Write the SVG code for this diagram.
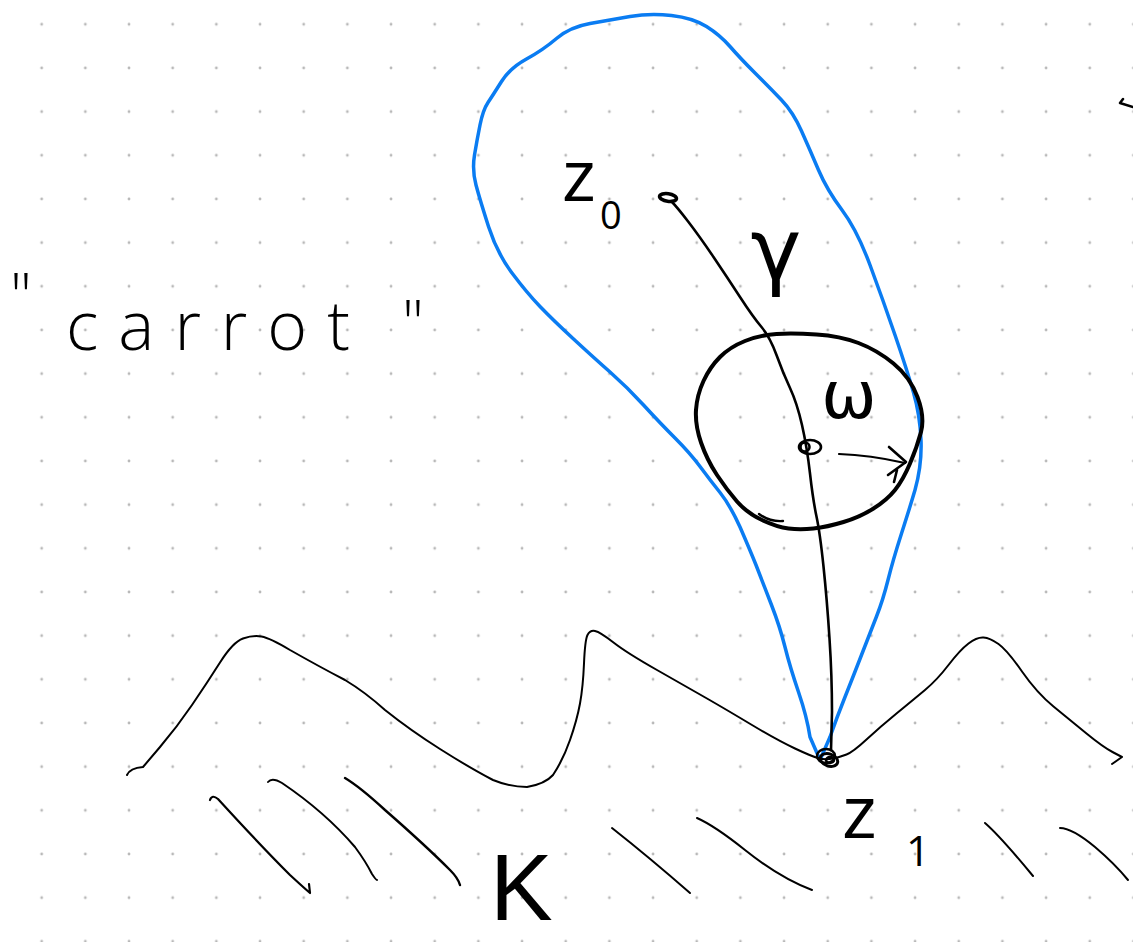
<svg xmlns="http://www.w3.org/2000/svg" width="1133" height="942" viewBox="0 0 1133 942">
<defs>
<pattern id="dots" patternUnits="userSpaceOnUse" x="19.85" y="2.45" width="43.67" height="43.67">
<circle cx="21.83" cy="21.83" r="1.4" fill="#b8b8b8"/>
</pattern>
<style>
.ink{fill:none;stroke:#000;stroke-linecap:round;stroke-linejoin:round}
.blue{fill:none;stroke:#0a7cf2;stroke-width:3.5;stroke-linecap:round;stroke-linejoin:round}
.hand{font-family:"Open Sans","Liberation Sans",sans-serif;font-weight:300;fill:#000}
.label{font-family:"Open Sans","Liberation Sans",sans-serif;font-weight:400;fill:#000}
.klabel{font-family:"Liberation Sans",sans-serif;font-weight:400;fill:#000}
.greek{font-family:"DejaVu Sans","Liberation Sans",sans-serif;font-weight:400;fill:#000}
</style>
</defs>
<rect width="1133" height="942" fill="#fff"/>
<rect width="1133" height="942" fill="url(#dots)"/>

<g id="region-blue">
<path class="blue" d="M630,16.5 Q650,13 671.5,15.5 Q693,18 706.5,26.5 Q720,35 730,46.5 Q740,58 755,73 Q770,88 781.5,100 Q793,112 801.5,131 Q810,150 818.5,170 Q827,190 842,210 Q857,230 870,265 Q883,300 895,335 Q907,370 913.5,392.5 Q920,415 921,440 Q922,465 915,490 Q910,507 901.5,533.5 Q893,560 888,580 Q883,600 876.5,616.5 Q870,633 861.5,655 Q853,677 845,697 Q837,717 830,737 L820,760 L810,737 Q807,717 798.5,692 Q790,667 785,647 Q780,627 771.5,605 Q763,583 756,565 Q750,550 740,527 Q730,505 720,492.5 Q710,480 700,466.5 Q690,453 675,438 Q660,423 643.5,405 Q627,387 610,372 Q593,357 573,338.5 Q553,320 540,306.5 Q527,293 512,273 Q497,253 488.5,226.5 Q480,200 476,185 Q472,170 474.5,155 Q477,140 480,125 Q483,110 488,102.5 Q493,95 501.5,81.5 Q510,68 526.5,59 Q543,50 556.5,38.5 Q570,27 590,23.5 Q610,20 630,16.5 Z"/>
</g>

<g id="boundary-K">
<path class="ink" stroke-width="2" d="M127,775 Q130,768 143,767 L160,747 Q177,727 192,705 Q207,683 220,662.5 Q233,642 243,638.5 Q253,635 261.5,636.5 Q270,638 290,650 Q320,667 345,680 Q365,692 385,710 Q410,730 440,749 Q470,768 493,780 Q510,787 527,787 Q545,784 553,775 Q563,760 570,740 Q577,720 580,703.5 Q583,687 584,663.5 Q585,640 587.5,635 Q590,630 595,631 Q600,632 613.5,642.5 Q627,653 657,670 Q687,687 707,698.5 Q727,710 752,725 Q777,740 795,748.5 Q813,757 819.5,758.5 Q826,760 833,758.5 Q840,757 846.5,754.5 Q853,752 866.5,739.5 Q880,727 896.5,713.5 Q913,700 925,690 Q937,680 948.5,665 Q960,650 968.5,643.5 Q977,637 983.5,637.5 Q990,638 998.5,644 Q1007,650 1022,671.5 Q1037,693 1053.5,706.5 Q1070,720 1086.5,733.5 Q1103,747 1112.5,752 L1122,757 L1112,764"/>
</g>

<g id="hatching">
<path class="ink" stroke-width="2.2" d="M210,800 Q212,794 218,799 Q260,845 290,875 Q303,887 310,893 L309,884"/>
<path class="ink" stroke-width="2" d="M268,782 Q272,777 282,783 Q325,812 355,847 Q366,862 372,874 Q376,880 377,880"/>
<path class="ink" stroke-width="2.4" d="M345,778 Q360,787 385,810 Q425,845 450,870 Q458,878 460,885"/>
<path class="ink" stroke-width="2" d="M612,828 Q650,858 690,893"/>
<path class="ink" stroke-width="2" d="M697,818 Q715,826 745,850 Q780,878 812,890"/>
<path class="ink" stroke-width="2" d="M985,823 Q1000,836 1033,876"/>
<path class="ink" stroke-width="2" d="M1060,828 Q1072,828 1095,847 Q1115,864 1128,880"/>
<path class="ink" stroke-width="2.5" d="M1123,99 L1120,103 L1133,107"/>
</g>

<g id="curve-gamma">
<path class="ink" stroke-width="2.6" d="M672,202 Q677,207 688.5,222 Q700,237 713.5,257 Q727,277 740,297 Q753,317 761.5,327 Q770,337 776.5,355 Q783,373 790,388 Q797,403 802,425 Q807,447 810,473.5 Q813,500 816.5,516.5 Q820,533 823.5,566.5 Q827,600 829.5,638.5 Q832,677 832,712 L831,750"/>
</g>

<g id="disk-w">
<path class="ink" stroke-width="4" d="M776.5,334 Q793,333 816.5,334.5 Q840,336 858.5,343 Q877,350 893.5,363.5 Q910,377 917.5,397 Q925,417 921,432 Q917,447 910,463.5 Q903,480 895,490 Q887,500 873.5,508.5 Q860,517 843.5,522 Q827,527 813.5,528.5 Q800,530 788.5,528.5 Q777,527 762,520 Q747,513 737,501.5 Q727,490 717,475 Q707,460 701,442.5 Q695,425 696,410 Q697,395 703.5,381 Q710,367 720,357 Q730,347 745,341 Q760,335 776.5,334 Z"/>
<path class="ink" stroke-width="2.4" d="M759,514 Q770,522 783,521"/>
<ellipse class="ink" stroke-width="2.6" cx="810" cy="447" rx="11" ry="7"/>
<circle class="ink" stroke-width="2.6" cx="805" cy="447" r="4.5"/>
<path class="ink" stroke-width="2.2" d="M839,454 Q870,455 905,463"/>
<path class="ink" stroke-width="2.6" d="M889,447 L906,462 L888,475 M897,470 L894,482"/>
</g>

<g id="point-z0">
<ellipse class="ink" stroke-width="3.6" cx="668" cy="197.5" rx="8.5" ry="3.8" transform="rotate(8 668 197.5)"/>
</g>

<g id="point-z1">
<ellipse class="ink" stroke-width="2.4" cx="826" cy="756" rx="9" ry="7"/>
<ellipse class="ink" stroke-width="3" cx="829" cy="760" rx="9" ry="6" transform="rotate(20 829 760)"/>
<ellipse class="ink" stroke-width="2.5" cx="830" cy="760" rx="4" ry="3"/>
</g>

<g id="labels">
<text class="label" x="562" y="201" font-size="72">z</text>
<text class="label" x="600" y="229" font-size="38">0</text>
<text class="greek" x="776" y="279" font-size="86" text-anchor="middle">γ</text>
<text class="greek" x="849" y="418" font-size="66" text-anchor="middle">ω</text>
<text class="label" x="842" y="838" font-size="74">z</text>
<text class="label" x="906" y="866" font-size="42">1</text>
<text class="klabel" x="490" y="920" font-size="94">K</text>
<text class="hand" x="10" y="318" font-size="62">"</text>
<text class="hand" x="66" y="350" font-size="68" textLength="284" lengthAdjust="spacing">carrot</text>
<text class="hand" x="402" y="345" font-size="62">"</text>
</g>
</svg>
